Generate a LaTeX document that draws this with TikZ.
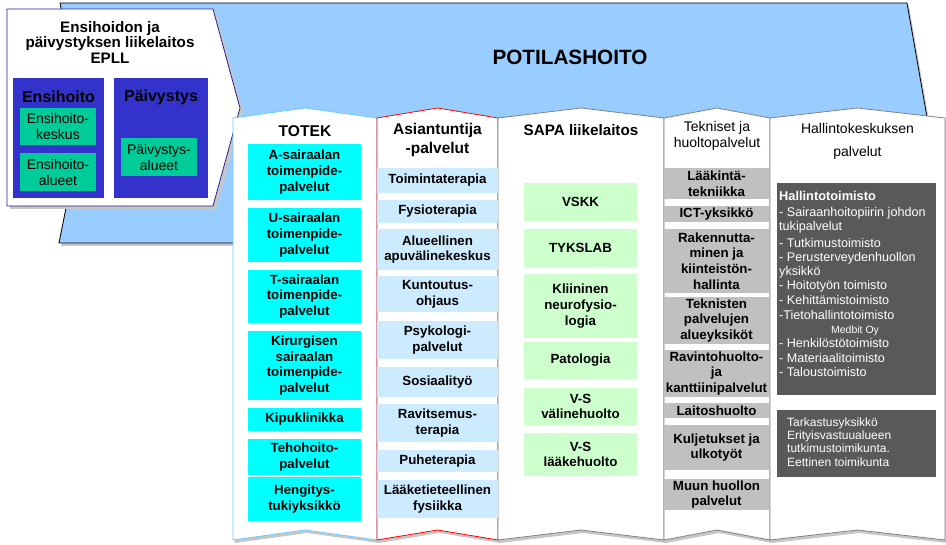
\documentclass[tikz,border=0pt]{standalone}
\usepackage{fontspec}
\setmainfont{Liberation Sans}

\definecolor{potilas}{HTML}{99CCFF}
\definecolor{epllreuna}{HTML}{22228F}
\definecolor{epllsini}{HTML}{3333CC}
\definecolor{epllvihrea}{HTML}{00CC99}
\definecolor{totekreuna}{HTML}{66CCFF}
\definecolor{totekbox}{HTML}{00FFFF}
\definecolor{asiabox}{HTML}{CCEBFF}
\definecolor{sapabox}{HTML}{CCFFCC}
\definecolor{tekbox}{HTML}{C0C0C0}
\definecolor{hallbox}{HTML}{595959}
\definecolor{reunaharmaa}{HTML}{808080}

\begin{document}
\begin{tikzpicture}[x=1pt, y=-1pt,
    varjo/.style={fill=black!22},
    sarake/.style={fill=white, line width=0.8pt},
    laatikko/.style={inner sep=0pt, align=center, font=\bfseries\fontsize{13.3}{15.8}\selectfont},
    otsikko/.style={inner sep=0pt, align=center, font=\bfseries\fontsize{15.5}{18.5}\selectfont},
    vihrea/.style={fill=epllvihrea, inner sep=0pt, align=center, minimum width=76, font=\fontsize{14}{16}\selectfont},
    rivi/.style={inner sep=0pt, anchor=west, text=white, text height=9pt, text depth=2.5pt, font=\fontsize{12.6}{14}\selectfont}]

  \useasboundingbox (0,0) rectangle (946,545);

  % POTILASHOITO (taustanuoli)
  \fill[varjo] (62,6) -- (909,6) -- (930,126) -- (909,246) -- (61,246) -- (85,126) -- cycle;
  \draw[fill=potilas, line width=0.8pt] (60,3) -- (907,3) -- (928,123) -- (907,243) -- (59,243) -- (83,123) -- cycle;
  \node[font=\bfseries\fontsize{20.7}{24}\selectfont] (potilashoito) at (570,57) {POTILASHOITO};

  % EPLL
  \fill[varjo] (10,12) -- (216,12) -- (243,111) -- (216,209) -- (10,209) -- cycle;
  \draw[fill=white, draw=epllreuna, line width=0.8pt] (7,9) -- (213,9) -- (240,108) -- (213,206) -- (7,206) -- cycle;
  \node[otsikko, font=\bfseries\fontsize{15.2}{15.5}\selectfont] (epll) at (110,42) {Ensihoidon ja\\päivystyksen liikelaitos\\EPLL};

  \node[fill=epllsini, inner sep=0pt, minimum width=91, minimum height=120] (ensihoito) at (58.5,138) {};
  \node[fill=epllsini, inner sep=0pt, minimum width=94, minimum height=120] (paivystys) at (161,138) {};
  \node[otsikko, font=\bfseries\fontsize{16}{18}\selectfont] (ensihoitootsikko) at (58.5,97) {Ensihoito};
  \node[otsikko, font=\bfseries\fontsize{16}{18}\selectfont] (paivystysotsikko) at (161,97) {Päivystys};
  \node[vihrea, minimum height=37] (keskus) at (58,126.5) {Ensihoito-\\keskus};
  \node[vihrea, minimum height=38] (alueet) at (58,172) {Ensihoito-\\alueet};
  \node[vihrea, minimum height=38] (palueet) at (159,157) {Päivystys-\\alueet};

  % sarakkeet: varjot ensin, sitten pohjat
  \foreach \xl/\xm/\xr in {233/305/377, 377/437.5/498, 498/581/664, 664/717/770, 770/857.5/945}
    \fill[varjo] (\xl+2,121) -- (\xm+2,111) -- (\xr+2,121) -- (\xr+2,543) -- (\xm+2,533) -- (\xl+2,543) -- cycle;
  \foreach \xl/\xm/\xr/\reuna in {233/305/377/totekreuna, 377/437.5/498/red, 498/581/664/reunaharmaa, 664/717/770/reunaharmaa, 770/857.5/945/reunaharmaa}
    \draw[sarake, draw=\reuna] (\xl,118) -- (\xm,108) -- (\xr,118) -- (\xr,540) -- (\xm,530) -- (\xl,540) -- cycle;

  % otsikot
  \node[otsikko, font=\bfseries\fontsize{15.6}{18}\selectfont] (totek) at (305,131) {TOTEK};
  \node[otsikko] (asiantuntija) at (437.5,140) {Asiantuntija\\-palvelut};
  \node[otsikko, font=\bfseries\fontsize{15.2}{18}\selectfont] (sapa) at (581,130) {SAPA liikelaitos};
  \node[otsikko, font=\fontsize{14}{16}\selectfont] (tekniset) at (717,136) {Tekniset ja\\huoltopalvelut};
  \node[otsikko, font=\fontsize{14}{23}\selectfont] (hallinto) at (857.5,141.5) {Hallintokeskuksen\\palvelut};

  % TOTEK
  \foreach \y/\h/\t [count=\i] in {172/56/{A-sairaalan\\toimenpide-\\palvelut}, 235/54/{U-sairaalan\\toimenpide-\\palvelut},
      296.5/53/{T-sairaalan\\toimenpide-\\palvelut}, 365.5/69/{Kirurgisen\\sairaalan\\toimenpide-\\palvelut},
      419.5/23/Kipuklinikka, 457/36/{Tehohoito-\\palvelut}, 499/44/{Hengitys-\\tukiyksikkö}}
    \node[laatikko, fill=totekbox, minimum width=113, minimum height=\h] (totek\i) at (304.5,\y) {\t};

  % Asiantuntijapalvelut
  \foreach \y/\h/\t [count=\i] in {180.5/25/Toimintaterapia, 211.5/23/Fysioterapia, 249.5/41/{Alueellinen\\apuvälinekeskus},
      294/36/{Kuntoutus-\\ohjaus}, 340/38/{Psykologi-\\palvelut}, 382/30/Sosiaalityö, 423/38/{Ravitsemus-\\terapia},
      461/22/Puheterapia, 499/38/{Lääketieteellinen\\fysiikka}}
    \node[laatikko, fill=asiabox, minimum width=121, minimum height=\h] (asia\i) at (437.5,\y) {\t};

  % SAPA
  \foreach \y/\h/\t [count=\i] in {202/38/VSKK, 248/38/TYKSLAB, 306/64/{Kliininen\\neurofysio-\\logia},
      360.5/37/Patologia, 406.5/37/{V-S\\välinehuolto}, 454.5/43/{V-S\\lääkehuolto}}
    \node[laatikko, fill=sapabox, minimum width=113, minimum height=\h] (sapa\i) at (580.5,\y) {\t};

  % Tekniset ja huoltopalvelut
  \foreach \y/\h/\t [count=\i] in {183.5/31/{Lääkintä-\\tekniikka}, 214/16/ICT-yksikkö,
      261/64/{Rakennutta-\\minen ja\\kiinteistön-\\hallinta}, 320.5/47/{Teknisten\\palvelujen\\alueyksiköt},
      373.5/47/{Ravintohuolto-\\ja\\kanttiinipalvelut}, 410.5/15/Laitoshuolto,
      447.5/45/{Kuljetukset ja\\ulkotyöt}, 494.5/31/{Muun huollon\\palvelut}}
    \node[laatikko, fill=tekbox, minimum width=105, minimum height=\h] (tek\i) at (716.5,\y) {\t};

  % Hallintokeskuksen palvelut
  \node[fill=hallbox, inner sep=0pt, minimum width=159, minimum height=212] (hallintotoimisto) at (856.5,289) {};
  \node[fill=hallbox, inner sep=0pt, minimum width=159, minimum height=67] (tarkastus) at (856.5,443.5) {};
  \node[rivi, font=\bfseries\fontsize{12.8}{14}\selectfont] (hallotsikko) at (779,197) {Hallintotoimisto};
  \foreach \y/\t [count=\i] in {213/{- Sairaanhoitopiirin johdon}, 227/tukipalvelut, 244/{- Tutkimustoimisto},
      258/{- Perusterveydenhuollon}, 272/yksikkö, 286/{- Hoitotyön toimisto}, 301/{- Kehittämistoimisto},
      316/{-Tietohallintotoimisto}, 344/{- Henkilöstötoimisto}, 359/{- Materiaalitoimisto}, 373/{- Taloustoimisto}}
    \node[rivi] (hallrivi\i) at (779,\y) {\t};
  \node[rivi, anchor=center, font=\fontsize{10.5}{12}\selectfont] (medbit) at (855,330) {Medbit Oy};
  \foreach \y/\t [count=\i] in {423/Tarkastusyksikkö, 436/Erityisvastuualueen, 449/tutkimustoimikunta., 463/{Eettinen toimikunta}}
    \node[rivi, font=\fontsize{12}{14}\selectfont] (tarkrivi\i) at (787,\y) {\t};

\end{tikzpicture}
\end{document}
